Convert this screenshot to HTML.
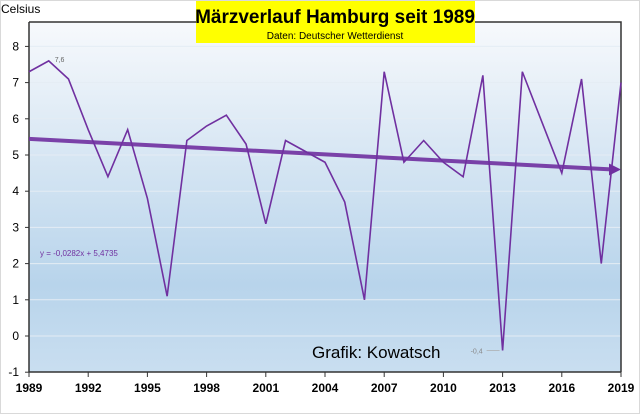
<!DOCTYPE html>
<html><head><meta charset="utf-8"><style>
body{margin:0;background:#fff;}
svg{display:block;font-family:"Liberation Sans",sans-serif;}
</style></head><body>
<svg width="640" height="414" viewBox="0 0 640 414">
<defs>
<linearGradient id="bg" x1="0" y1="0" x2="0" y2="1">
<stop offset="0" stop-color="#f7f9fc"/><stop offset="0.75" stop-color="#b8d4eb"/><stop offset="1" stop-color="#c9def0"/>
</linearGradient>
</defs>
<rect x="0.5" y="0.5" width="639" height="413" fill="#fff" stroke="#d9d9d9"/>
<rect x="29" y="22" width="592" height="350" fill="url(#bg)"/>
<g id="grid"></g>
<path d="M29,22 H621 V372" fill="none" stroke="#333" stroke-width="1.5"/>
<line x1="29" y1="22" x2="29" y2="372" stroke="#333" stroke-width="1.5"/>
<line x1="29" y1="372" x2="621" y2="372" stroke="#333" stroke-width="1.5"/>
<g id="axes"></g>
<g id="series"></g>
<text x="1" y="13" font-size="12" fill="#000">Celsius</text>
<rect x="196" y="1" width="279" height="42" fill="#ffff00"/>
<text x="335" y="23" text-anchor="middle" font-size="19" font-weight="bold" fill="#000">Märzverlauf Hamburg seit 1989</text>
<text x="335" y="39" text-anchor="middle" font-size="10" fill="#000">Daten: Deutscher Wetterdienst</text>
<text x="40" y="256" font-size="8" fill="#7030a0">y = -0,0282x + 5,4735</text>
<text x="312" y="358" font-size="17" fill="#000">Grafik: Kowatsch</text>
</svg>
<script>
const years=[1989,1990,1991,1992,1993,1994,1995,1996,1997,1998,1999,2000,2001,2002,2003,2004,2005,2006,2007,2008,2009,2010,2011,2012,2013,2014,2015,2016,2017,2018,2019];
const temps=[7.3,7.6,7.1,5.7,4.4,5.7,3.8,1.1,5.4,5.8,6.1,5.3,3.1,5.4,5.1,4.8,3.7,1.0,7.3,4.8,5.4,4.8,4.4,7.2,-0.4,7.3,5.9,4.5,7.1,2.0,7.0];
const yTicks=[-1,0,1,2,3,4,5,6,7,8];
const xTicks=[1989,1992,1995,1998,2001,2004,2007,2010,2013,2016,2019];
const trendSlope=-0.0282, trendIntercept=5.4735;
const NS="http://www.w3.org/2000/svg";
const X=y=>29+(y-1989)*(592/30);
const Y=v=>336-v*36.2;
function mk(t,a,p){const e=document.createElementNS(NS,t);for(const k in a)e.setAttribute(k,a[k]);p.appendChild(e);return e;}
const grid=document.getElementById('grid'),axes=document.getElementById('axes'),ser=document.getElementById('series');
yTicks.forEach(v=>{
 if(v>-1){const g=mk('line',{x1:29,x2:621,y1:Y(v),y2:Y(v),stroke:'#e4ecf4','stroke-width':1},grid);
 
 }
 const t=mk('line',{x1:25,x2:29,y1:Y(v),y2:Y(v),stroke:'#333'},axes);
 
 
 const l=mk('text',{x:19,y:Y(v)+4,'text-anchor':'end','font-size':12,fill:'#000'},axes);l.textContent=v;
 
 
});
xTicks.forEach(v=>{
 const t=mk('line',{x1:X(v),x2:X(v),y1:372,y2:377,stroke:'#333'},axes);
 
 
 const l=mk('text',{x:X(v),y:392,'text-anchor':'middle','font-size':12,'font-weight':'bold',fill:'#000'},axes);l.textContent=v;
 
 
});
// trend
const tx1=1989,tx2=2019;
const tv=x=>trendIntercept+trendSlope*(x-1988);
const tr=mk('line',{x1:X(tx1),y1:Y(tv(tx1)),x2:X(tx2)-8,y2:Y(tv(tx2)),stroke:'#7030a0','stroke-width':4,opacity:0.9},ser);


const ax=X(tx2),ay=Y(tv(tx2));
const ah=mk('polygon',{points:`${ax},${ay} ${ax-12},${ay-6} ${ax-12},${ay+6}`,fill:'#7030a0'},ser);


const ln=mk('polyline',{points:years.map((y,i)=>X(y)+','+Y(temps[i])).join(' '),fill:'none',stroke:'#7030a0','stroke-width':1.6},ser);


const iMax=temps.indexOf(Math.max(...temps)),iMin=temps.indexOf(Math.min(...temps));
const mx=mk('text',{x:X(years[iMax])+6,y:Y(temps[iMax])+1,'font-size':7,fill:'#666'},ser);mx.textContent=String(temps[iMax]).replace('.',',');


const mn=mk('text',{x:X(years[iMin])-32,y:Y(temps[iMin])+3,'font-size':7,fill:'#888'},ser);mn.textContent=String(temps[iMin]).replace('.',',');


const ml=mk('line',{x1:X(years[iMin])-16,x2:X(years[iMin])-3,y1:Y(temps[iMin]),y2:Y(temps[iMin]),stroke:'#aaa','stroke-width':0.7},ser);


</script>
</body></html>
